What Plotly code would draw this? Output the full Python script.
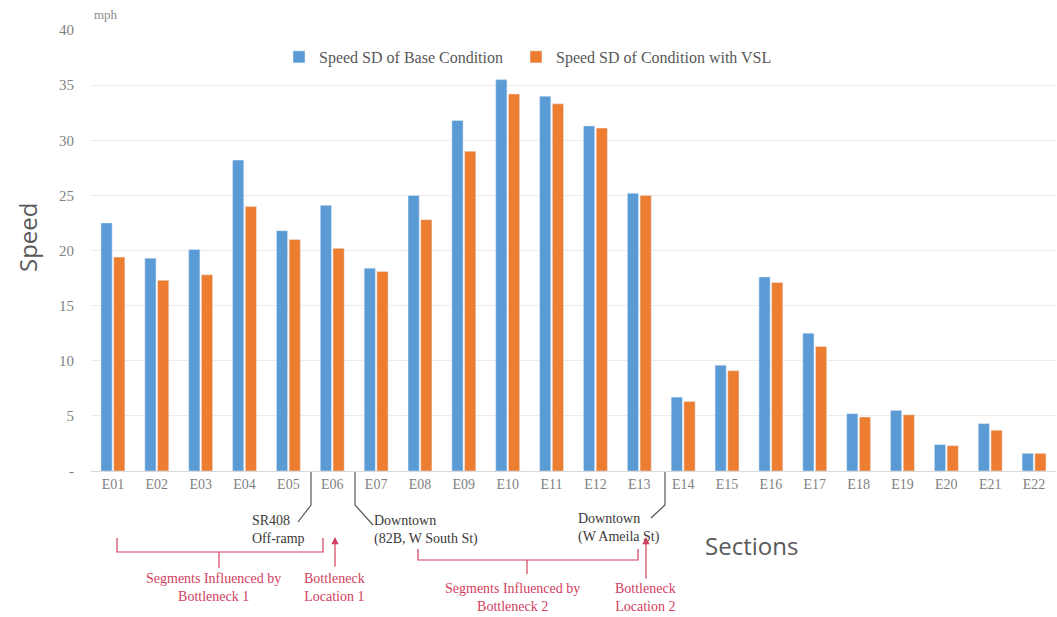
import plotly.graph_objects as go

sections = ["E01", "E02", "E03", "E04", "E05", "E06", "E07", "E08", "E09", "E10", "E11",
            "E12", "E13", "E14", "E15", "E16", "E17", "E18", "E19", "E20", "E21", "E22"]
base_sd = [22.5, 19.3, 20.1, 28.2, 21.8, 24.1, 18.4, 25.0, 31.8, 35.5, 34.0,
           31.3, 25.2, 6.7, 9.6, 17.6, 12.5, 5.2, 5.5, 2.4, 4.3, 1.6]
vsl_sd = [19.4, 17.3, 17.8, 24.0, 21.0, 20.2, 18.1, 22.8, 29.0, 34.2, 33.3,
          31.1, 25.0, 6.3, 9.1, 17.1, 11.3, 4.9, 5.1, 2.3, 3.7, 1.6]
y_tickvals = [0, 5, 10, 15, 20, 25, 30, 35, 40]
y_ticktext = ["-", "5", "10", "15", "20", "25", "30", "35", "40"]

W, H = 1057, 617
L, R, T, B = 91, 1, 30, 146
PW, PH = W - L - R, H - T - B


def px(x):
    return (x - L) / PW


def py(y):
    return (H - B - y) / PH


SERIF = "Liberation Serif, Times New Roman, serif"
SANS = "Open Sans, sans-serif"
RED = "#d2405f"
DARK = "#3a3a3a"

fig = go.Figure()
fig.add_trace(go.Bar(x=sections, y=base_sd, name="Speed SD of Base Condition&nbsp;&nbsp;",
                     marker_color="#5B9BD5"))
fig.add_trace(go.Bar(x=sections, y=vsl_sd, name="Speed SD of Condition with VSL",
                     marker_color="#ED7D31"))

shapes = []


def path(points, color, width=1.2):
    d = "M " + " L ".join(f"{px(a):.5f},{py(b):.5f}" for a, b in points)
    shapes.append(dict(type="path", xref="paper", yref="paper", path=d,
                       line=dict(color=color, width=width)))


# leader lines
path([(311, 472), (311, 505), (298, 522)], "#555555")
path([(355, 472), (355, 505), (373, 525)], "#555555")
path([(665, 472), (665, 505), (651, 518)], "#555555")
# brackets
path([(117, 538), (117, 552), (323, 552), (323, 538)], RED)
path([(219, 552), (219, 568)], RED)
path([(418, 549), (418, 560), (638, 560), (638, 549)], RED)
path([(527, 560), (527, 574)], RED)

annotations = []


def text(x, y, s, color, size=14, align="left", xanchor="left", font=SERIF, angle=0):
    annotations.append(dict(x=px(x), y=py(y), xref="paper", yref="paper", text=s,
                            showarrow=False, xanchor=xanchor, yanchor="middle",
                            align=align, textangle=angle,
                            font=dict(family=font, size=size, color=color)))


text(92, 15, "mph", "#8a8a8a", size=13)
text(28, 237, "Speed", "#595959", size=24, xanchor="center", font=SANS, angle=-90)
text(751, 545, "Sections", "#595959", size=24, xanchor="center", font=SANS)
text(250, 529, "SR408<br>Off-ramp", DARK)
text(372, 530, "Downtown<br>(82B, W South St)", DARK)
text(576, 528, "Downtown<br>(W Ameila St)", DARK)
text(213, 587, "Segments Influenced by<br>Bottleneck 1", RED, align="center", xanchor="center")
text(334, 587, "Bottleneck<br>Location 1", RED, align="center", xanchor="center")
text(512, 597, "Segments Influenced by<br>Bottleneck 2", RED, align="center", xanchor="center")
text(645, 597, "Bottleneck<br>Location 2", RED, align="center", xanchor="center")

for ax_x, head_y, tail_y in [(335, 537, 568), (646, 537, 580)]:
    annotations.append(dict(x=px(ax_x), y=py(head_y), xref="paper", yref="paper",
                            text="", showarrow=True, arrowhead=2, arrowsize=1.2,
                            arrowwidth=1.2, arrowcolor=RED, ax=0, ay=tail_y - head_y))

fig.update_layout(
    width=W, height=H,
    margin=dict(l=L, r=R, t=T, b=B),
    paper_bgcolor="white", plot_bgcolor="white",
    barmode="group", bargap=0.42, bargroupgap=0.12,
    showlegend=True,
    legend=dict(orientation="h", x=px(279), y=py(57), xanchor="left", yanchor="middle",
                font=dict(family=SERIF, size=16, color="#595959"),
                itemwidth=30, bgcolor="rgba(0,0,0,0)"),
    xaxis=dict(type="category", showgrid=False, ticks="", showline=True,
               linecolor="#d9d9d9", linewidth=1,
               tickfont=dict(family=SERIF, size=14, color="#7f7f7f")),
    yaxis=dict(range=[0, 40], tickvals=y_tickvals, ticktext=y_ticktext,
               showgrid=True, gridcolor="#ececec", gridwidth=1, zeroline=False,
               showline=False, ticks="", ticklabelstandoff=16,
               tickfont=dict(family=SERIF, size=15, color="#7f7f7f")),
    shapes=shapes,
    annotations=annotations,
)

fig.write_html("out.html", config={"displayModeBar": False},
               post_script="document.body.style.margin='0';document.body.style.padding='0';")
